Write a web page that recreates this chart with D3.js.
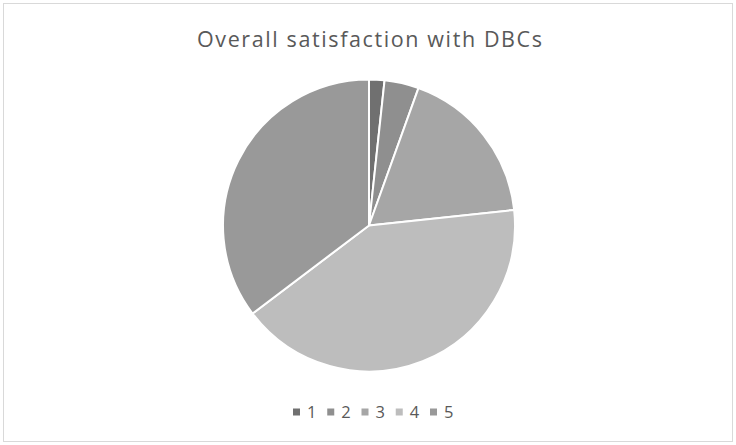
<!DOCTYPE html>
<html>
<head>
    <meta charset="utf-8">
    <title>Overall satisfaction with DBCs</title>
    <script src="https://cdn.jsdelivr.net/npm/d3@7"></script>
    <style>
        body { margin: 0; background: #fff; }
    </style>
</head>
<body>
    <svg id="drawingplace" width="736" height="445"></svg>
    <script>
        // chart data (percent share per rating)
        let categories = ["1", "2", "3", "4", "5"]
        let values = [1.7, 3.8, 17.8, 41.4, 35.3]
        let colours = ["#707070", "#8f8f8f", "#a6a6a6", "#bdbdbd", "#999999"]
        let title = "Overall satisfaction with DBCs"

        let svg = d3.select("#drawingplace")
        let centre = {x: 369, y: 225.5}
        let radius = 146

        // chart area border
        svg.append("rect")
            .attr("x", 3.5).attr("y", 3.5)
            .attr("width", 729).attr("height", 438)
            .attr("fill", "#fff")
            .attr("stroke", "#d9d9d9")
            .attr("stroke-width", 1)

        // title stretched to the reference width (Segoe-like spacing)
        svg.append("text")
            .attr("x", 197).attr("y", 46.5)
            .attr("font-family", "'Open Sans', sans-serif")
            .attr("font-size", 21.5)
            .attr("fill", "#595959")
            .attr("textLength", 345)
            .attr("lengthAdjust", "spacing")
            .text(title)

        let colour = d3.scaleOrdinal().domain(categories).range(colours)

        let pie = d3.pie().sort(null).value(d => d.value)
        let arc = d3.arc().innerRadius(0).outerRadius(radius)

        let slices = categories.map((c, i) => ({name: c, value: values[i]}))

        svg.append("g")
            .attr("transform", `translate(${centre.x},${centre.y})`)
            .selectAll("path")
            .data(pie(slices))
            .enter()
            .append("path")
            .attr("d", arc)
            .attr("fill", d => colour(d.data.name))
            .attr("stroke", "#fff")
            .attr("stroke-width", 2)
            .attr("stroke-linejoin", "round")

        // legend along the bottom
        let legendX = d3.scalePoint().domain(categories).range([293, 430])
        let legend = svg.append("g")
            .selectAll("g")
            .data(categories)
            .enter()
            .append("g")
            .attr("transform", d => `translate(${legendX(d)},412)`)

        legend.append("rect")
            .attr("x", 0).attr("y", -3.5)
            .attr("width", 7).attr("height", 7)
            .attr("fill", d => colour(d))

        legend.append("text")
            .attr("x", 14).attr("y", 6)
            .attr("font-family", "'Open Sans', sans-serif")
            .attr("font-size", 16.5)
            .attr("fill", "#595959")
            .text(d => d)
    </script>
</body>
</html>
